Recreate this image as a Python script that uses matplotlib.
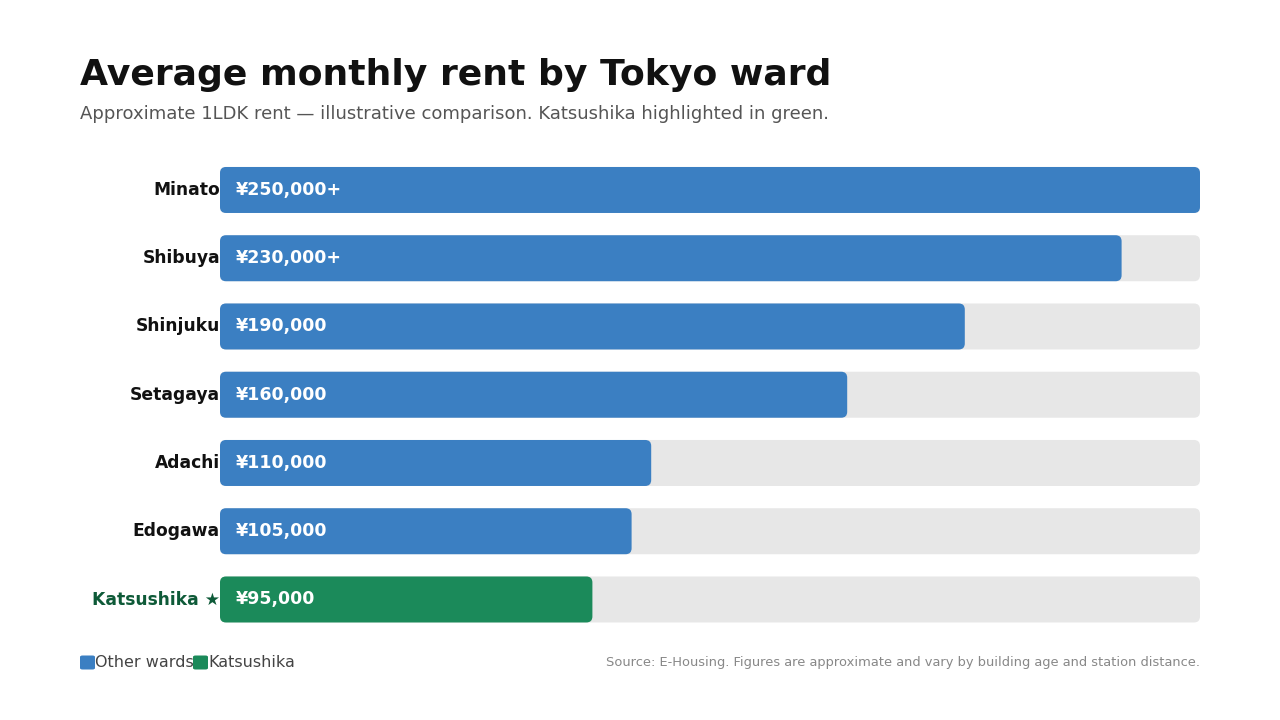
import matplotlib.pyplot as plt
from matplotlib.patches import FancyBboxPatch

plt.rcParams['font.family'] = ['DejaVu Sans']

wards = ["Minato", "Shibuya", "Shinjuku", "Setagaya", "Adachi", "Edogawa", "Katsushika"]
rents = [250000, 230000, 190000, 160000, 110000, 105000, 95000]
value_labels = ["¥250,000+", "¥230,000+", "¥190,000", "¥160,000", "¥110,000", "¥105,000", "¥95,000"]
highlight = "Katsushika"
xmax = 250000

BLUE = "#3b7fc2"
GREEN = "#1b8a5a"
TRACK = "#e7e7e7"
DARKGREEN = "#0e5a38"

fig = plt.figure(figsize=(12.8, 7.2), dpi=100)
ax = fig.add_axes([220 / 1280, 0.12, 980 / 1280, 477.75 / 720])
ax.set_xlim(0, xmax)
ax.set_ylim(len(wards) - 0.5, -0.5)
ax.axis("off")

bar_h = 46 / 68.25
rad_x = 6 * xmax / 980
aspect = (6 / 68.25) / rad_x


def rbar(x0, width, y, color):
    p = FancyBboxPatch((x0, y - bar_h / 2), width, bar_h,
                       boxstyle=f"round,pad=0,rounding_size={rad_x}",
                       mutation_aspect=aspect, fc=color, ec="none")
    ax.add_patch(p)


for i, (w, r, lab) in enumerate(zip(wards, rents, value_labels)):
    hl = w == highlight
    rbar(0, xmax, i, TRACK)
    rbar(0, r, i, GREEN if hl else BLUE)
    ax.text(4000, i, lab, color="white", fontsize=12.5, fontweight="bold",
            va="center", ha="left")
    ax.text(0, i, (w + " ★") if hl else w, color=DARKGREEN if hl else "#111111",
            fontsize=12.3, fontweight="bold", va="center", ha="right")

fig.text(80 / 1280, 1 - 75 / 720, "Average monthly rent by Tokyo ward",
         fontsize=26.1, fontweight="bold", color="#111111", va="center", ha="left")
fig.text(80 / 1280, 1 - 114 / 720,
         "Approximate 1LDK rent — illustrative comparison. Katsushika highlighted in green.",
         fontsize=13, color="#555555", va="center", ha="left")

# legend
ly = 1 - 662.5 / 720
for x0, c, t in [(80, BLUE, "Other wards"), (193, GREEN, "Katsushika")]:
    fig.patches.append(FancyBboxPatch((x0 / 1280, ly - 7 / 720), 15 / 1280, 14 / 720,
                                      boxstyle="round,pad=0,rounding_size=0.002",
                                      transform=fig.transFigure, fc=c, ec="none"))
    fig.text((x0 + 15) / 1280, ly, t, fontsize=11.5, color="#444444", va="center", ha="left")

fig.text(1200 / 1280, ly,
         "Source: E-Housing. Figures are approximate and vary by building age and station distance.",
         fontsize=9.4, color="#888888", va="center", ha="right")

fig.savefig("out.png", dpi=100, facecolor="white")
